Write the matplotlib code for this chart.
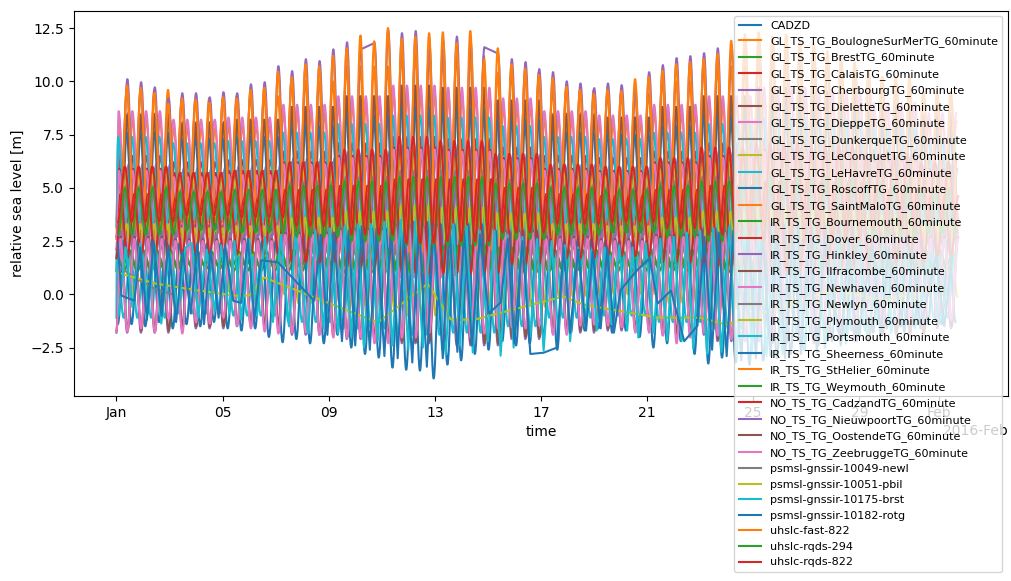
import numpy as np
import matplotlib
matplotlib.use("Agg")
import matplotlib.pyplot as plt
import matplotlib.dates as mdates
from matplotlib.path import Path
from matplotlib.patches import PathPatch
from matplotlib.lines import Line2D

START = np.datetime64("2016-01-01T00:00")
END_H = 762.0   # last hourly record, Feb 1 18:00
M2 = 12.42      # hours between two high waters

# tide gauges: hour of first high water, high and low water levels [m]
# 16 values = one reading per ~2 days, held for the tides of that window
cadzd_ph, cadzd_hw, cadzd_lw = 3.7, [4.7, 4.5, 4.5, 4.9, 5.1, 5.4, 5.4, 5.0, 4.7, 4.6, 4.9, 5.1, 5.3, 5.3, 4.9, 4.6], [1.7, 1.9, 1.9, 1.6, 1.3, 1.0, 1.0, 1.4, 1.7, 1.8, 1.6, 1.3, 1.1, 1.2, 1.5, 1.8]
boulogne_ph, boulogne_hw, boulogne_lw = 2.2, [8.2, 7.8, 7.9, 8.5, 8.9, 9.4, 9.3, 8.8, 8.2, 8.0, 8.5, 8.9, 9.3, 9.1, 8.6, 8.1], [3.1, 3.4, 3.3, 2.8, 2.3, 1.8, 1.9, 2.5, 3.1, 3.2, 2.8, 2.3, 1.9, 2.1, 2.6, 3.1]
brest_ph, brest_hw, brest_lw = 8.9, [5.9, 5.7, 5.8, 6.2, 6.5, 6.8, 6.8, 6.4, 5.9, 5.8, 6.2, 6.5, 6.7, 6.6, 6.3, 5.9], [2.5, 2.7, 2.6, 2.3, 1.9, 1.6, 1.7, 2.0, 2.5, 2.6, 2.3, 1.9, 1.7, 1.8, 2.2, 2.5]
calais_ph, calais_hw, calais_lw = 2.6, [6.5, 6.2, 6.3, 6.7, 7.1, 7.4, 7.3, 6.9, 6.5, 6.4, 6.7, 7.1, 7.3, 7.2, 6.8, 6.4], [2.7, 3.0, 2.9, 2.5, 2.2, 1.8, 1.9, 2.3, 2.7, 2.8, 2.5, 2.2, 1.9, 2.0, 2.4, 2.8]
cherbourg_ph, cherbourg_hw, cherbourg_lw = 11.2, [6.1, 5.9, 6.0, 6.4, 6.7, 7.0, 7.0, 6.6, 6.1, 6.0, 6.4, 6.7, 6.9, 6.8, 6.5, 6.1], [2.7, 2.9, 2.8, 2.5, 2.1, 1.8, 1.9, 2.2, 2.7, 2.8, 2.5, 2.1, 1.9, 2.0, 2.4, 2.7]
dielette_ph, dielette_hw, dielette_lw = 10.4, [8.5, 8.1, 8.2, 8.8, 9.3, 9.8, 9.7, 9.1, 8.5, 8.3, 8.8, 9.3, 9.7, 9.5, 9.0, 8.4], [3.1, 3.5, 3.4, 2.8, 2.3, 1.8, 1.9, 2.5, 3.1, 3.3, 2.8, 2.3, 1.9, 2.1, 2.6, 3.2]
dieppe_ph, dieppe_hw, dieppe_lw = 2.0, [8.6, 8.2, 8.3, 8.9, 9.3, 9.8, 9.7, 9.2, 8.6, 8.4, 8.9, 9.3, 9.7, 9.5, 9.0, 8.5], [3.5, 3.8, 3.7, 3.2, 2.7, 2.2, 2.3, 2.9, 3.5, 3.6, 3.2, 2.7, 2.3, 2.5, 3.0, 3.5]
dunkerque_ph, dunkerque_hw, dunkerque_lw = 3.0, [5.8, 5.6, 5.7, 6.0, 6.3, 6.6, 6.6, 6.2, 5.8, 5.7, 6.0, 6.3, 6.5, 6.4, 6.1, 5.8], [2.6, 2.8, 2.7, 2.4, 2.1, 1.8, 1.9, 2.2, 2.6, 2.7, 2.4, 2.1, 1.9, 2.0, 2.3, 2.6]
conquet_ph, conquet_hw, conquet_lw = 8.9, [5.7, 5.5, 5.5, 5.9, 6.2, 6.5, 6.5, 6.1, 5.7, 5.6, 5.9, 6.2, 6.4, 6.3, 6.0, 5.6], [2.3, 2.5, 2.5, 2.1, 1.8, 1.5, 1.6, 1.9, 2.3, 2.4, 2.1, 1.8, 1.6, 1.7, 2.0, 2.4]
lehavre_ph, lehavre_hw, lehavre_lw = 1.5, [7.4, 7.1, 7.2, 7.6, 8.0, 8.4, 8.3, 7.9, 7.4, 7.3, 7.6, 8.0, 8.3, 8.2, 7.8, 7.3], [3.2, 3.5, 3.4, 3.0, 2.6, 2.2, 2.3, 2.7, 3.2, 3.4, 3.0, 2.6, 2.3, 2.4, 2.9, 3.3]
roscoff_ph, roscoff_hw, roscoff_lw = 9.1, [7.6, 7.3, 7.4, 7.9, 8.4, 8.8, 8.7, 8.2, 7.6, 7.5, 7.9, 8.4, 8.7, 8.6, 8.0, 7.5], [2.8, 3.1, 3.0, 2.5, 2.1, 1.6, 1.7, 2.2, 2.8, 2.9, 2.5, 2.1, 1.7, 1.9, 2.4, 2.9]
stmalo_ph, stmalo_hw, stmalo_lw = 9.4, [9.6, 9.2, 9.3, 10.0, 10.7, 11.3, 11.2, 10.4, 9.6, 9.4, 10.0, 10.7, 11.1, 10.9, 10.2, 9.5], [2.9, 3.4, 3.2, 2.5, 1.9, 1.3, 1.4, 2.1, 2.9, 3.1, 2.5, 1.9, 1.4, 1.6, 2.3, 3.0]
bournemouth_ph, bournemouth_hw, bournemouth_lw = 0.5, [1.9, 1.8, 1.9, 2.0, 2.0, 2.1, 2.1, 2.0, 1.9, 1.9, 2.0, 2.0, 2.1, 2.1, 2.0, 1.9], [1.1, 1.2, 1.1, 1.1, 1.0, 0.9, 0.9, 1.0, 1.1, 1.1, 1.1, 1.0, 0.9, 0.9, 1.0, 1.1]
dover_ph, dover_hw, dover_lw = 2.5, [5.9, 5.7, 5.8, 6.2, 6.5, 6.9, 6.8, 6.4, 5.9, 5.8, 6.2, 6.5, 6.8, 6.7, 6.3, 5.9], [2.1, 2.3, 2.2, 1.8, 1.5, 1.1, 1.2, 1.6, 2.1, 2.2, 1.8, 1.5, 1.2, 1.3, 1.7, 2.1]
ilfracombe_ph, ilfracombe_hw, ilfracombe_lw = 9.4, [8.4, 8.0, 8.2, 8.8, 9.3, 9.8, 9.7, 9.1, 8.4, 8.3, 8.8, 9.3, 9.7, 9.5, 8.9, 8.3], [2.8, 3.2, 3.0, 2.5, 1.9, 1.4, 1.5, 2.1, 2.8, 3.0, 2.5, 1.9, 1.5, 1.7, 2.3, 2.9]
newhaven_ph, newhaven_hw, newhaven_lw = 2.3, [5.8, 5.5, 5.6, 6.1, 6.4, 6.8, 6.7, 6.3, 5.8, 5.7, 6.1, 6.4, 6.7, 6.6, 6.2, 5.8], [1.8, 2.1, 2.0, 1.6, 1.2, 0.8, 0.9, 1.3, 1.8, 1.9, 1.6, 1.2, 0.9, 1.0, 1.4, 1.9]
newlyn_ph, newlyn_hw, newlyn_lw = 8.7, [5.1, 4.9, 4.9, 5.3, 5.5, 5.8, 5.8, 5.4, 5.1, 5.0, 5.3, 5.5, 5.7, 5.6, 5.3, 5.0], [2.1, 2.3, 2.3, 1.9, 1.7, 1.4, 1.4, 1.8, 2.1, 2.2, 1.9, 1.7, 1.5, 1.6, 1.9, 2.2]
plymouth_ph, plymouth_hw, plymouth_lw = 9.2, [3.3, 3.1, 3.2, 3.6, 3.9, 4.2, 4.1, 3.8, 3.3, 3.2, 3.6, 3.9, 4.1, 4.0, 3.7, 3.3], [-0.1, 0.1, 0.0, -0.4, -0.7, -1.0, -0.9, -0.6, -0.1, 0.0, -0.4, -0.7, -0.9, -0.8, -0.5, -0.1]
portsmouth_ph, portsmouth_hw, portsmouth_lw = 0.3, [2.0, 1.7, 1.8, 2.1, 2.4, 2.7, 2.6, 2.3, 2.0, 1.9, 2.1, 2.4, 2.6, 2.5, 2.2, 1.9], [-1.1, -0.9, -1.0, -1.3, -1.6, -1.9, -1.8, -1.5, -1.1, -1.0, -1.3, -1.6, -1.8, -1.7, -1.4, -1.1]
weymouth_ph, weymouth_hw, weymouth_lw = 11.5, [2.1, 2.0, 2.0, 2.1, 2.2, 2.3, 2.3, 2.2, 2.1, 2.0, 2.1, 2.2, 2.3, 2.3, 2.2, 2.1], [1.2, 1.3, 1.3, 1.2, 1.1, 1.0, 1.0, 1.1, 1.2, 1.3, 1.2, 1.1, 1.0, 1.0, 1.1, 1.2]
cadzand_ph, cadzand_hw, cadzand_lw = 3.7, [4.7, 4.5, 4.5, 4.9, 5.1, 5.4, 5.4, 5.0, 4.7, 4.6, 4.9, 5.1, 5.3, 5.2, 4.9, 4.6], [1.7, 1.9, 1.9, 1.5, 1.3, 1.0, 1.0, 1.4, 1.7, 1.8, 1.5, 1.3, 1.1, 1.2, 1.5, 1.8]
nieuwpoort_ph, nieuwpoort_hw, nieuwpoort_lw = 3.5, [2.9, 2.8, 2.8, 3.1, 3.3, 3.5, 3.4, 3.2, 2.9, 2.8, 3.0, 3.2, 3.4, 3.3, 3.1, 2.9], [-1.8, -1.6, -1.5, -1.9, -2.1, -2.3, -2.4, -2.1, -1.8, -1.7, -1.9, -2.2, -2.3, -2.2, -1.9, -1.6]
oostende_ph, oostende_hw, oostende_lw = 3.9, [2.7, 2.6, 2.6, 2.9, 3.1, 3.3, 3.2, 3.0, 2.7, 2.6, 2.8, 3.0, 3.2, 3.1, 2.9, 2.7], [-1.7, -1.5, -1.4, -1.8, -2.0, -2.2, -2.3, -2.0, -1.7, -1.6, -1.8, -2.1, -2.2, -2.1, -1.8, -1.5]
rqds294_ph, rqds294_hw, rqds294_lw = 7.8, [5.0, 4.8, 4.9, 5.1, 5.3, 5.5, 5.5, 5.2, 5.0, 4.9, 5.1, 5.3, 5.5, 5.4, 5.2, 4.9], [2.8, 3.0, 2.9, 2.7, 2.5, 2.3, 2.3, 2.6, 2.8, 2.9, 2.7, 2.5, 2.4, 2.4, 2.6, 2.9]
uh822_ph, uh822_hw, uh822_lw = 7.6, [6.0, 5.7, 5.8, 6.2, 6.8, 7.4, 7.2, 6.6, 6.1, 6.0, 6.4, 6.9, 7.1, 7.0, 6.6, 6.2], [3.4, 3.7, 3.6, 3.2, 2.8, 2.4, 2.5, 2.9, 3.3, 3.4, 3.1, 2.8, 2.5, 2.6, 3.0, 3.4]

# envelope stations: one value per tide
hinkley_ph = 9.9
hinkley_hw = [10.1, 9.96, 9.72, 9.2, 9.44, 9.44, 9.25, 9.49, 9.44, 9.86,
              9.96, 10.71, 10.48, 11.04, 10.95, 11.5, 11.83, 11.5, 11.8, 12.4,
              12.26, 12.36, 11.7, 11.9, 12.1, 11.85, 11.6, 11.3, 11.04, 10.9,
              10.57, 10.43, 10.0, 9.9, 9.68, 9.9, 9.82, 9.6, 10.43, 10.76,
              11.09, 11.18, 11.32, 11.55, 11.7, 12.0, 12.1, 11.9, 12.0, 11.7,
              11.6, 11.2, 10.9, 10.6, 10.3, 10.0, 9.7, 9.5, 9.3, 9.2, 9.1]
hinkley_lw = [3.4, 3.7, 3.6, 3.2, 2.8, 2.4, 2.5, 3.0, 3.5, 3.6, 3.2, 2.8, 2.5, 2.6, 3.0, 3.5]
hinkley_gaps = [17, 26]   # tides with no low water recorded

sthelier_ph = 9.6
sthelier_hw = [9.8, 9.7, 9.45, 8.95, 9.2, 9.15, 9.0, 9.25, 9.2, 9.6,
               9.7, 10.45, 10.2, 10.8, 10.7, 11.2, 11.55, 12.15, 11.88, 12.5,
               12.0, 12.1, 12.26, 12.3, 11.8, 12.36, 11.0, 11.55, 10.8, 10.6,
               10.3, 10.15, 9.75, 9.6, 9.4, 9.6, 9.55, 10.1, 10.2, 10.5,
               10.8, 10.9, 11.05, 11.3, 11.9, 12.2, 12.3, 12.1, 12.2, 11.9,
               11.8, 11.4, 11.1, 10.8, 10.5, 10.2, 9.9, 9.7, 9.5, 9.4, 9.3]
sthelier_lw = [3.0, 3.3, 3.2, 2.8, 2.4, 2.0, 2.1, 2.6, 3.1, 3.2, 2.8, 2.4, 2.1, 2.2, 2.6, 3.1]

sheerness_ph = 7.5
sheerness_hw = [2.6, 2.4, 2.5, 2.8, 3.1, 3.4, 3.3, 3.0, 2.6, 2.5, 2.8, 3.1, 3.3, 3.2, 2.9, 2.6]
sheerness_lw = [-1.4, -1.5, -1.3, -1.6, -1.4, -1.5, -1.3, -1.6,
                -1.7, -1.6, -2.0, -2.25, -2.1, -2.3,
                -2.3, -1.9, -2.5, -2.8, -2.97, -3.44, -3.54, -3.58, -3.95, -3.3, -3.1,
                -2.8, -2.6, -2.2, -2.4, -2.3, -2.0, -2.6, -1.8, -1.7, -1.6, -1.8, -1.7, -2.0,
                -2.5, -2.3, -2.2, -2.8, -3.25, -2.97,
                -3.2, -3.3, -3.1, -3.0, -2.8, -2.6, -2.4, -2.2, -2.0, -1.9, -1.8, -1.6,
                -1.5, -1.5, -1.4, -1.4, -1.3]

zeebrugge_ph = 3.7
zeebrugge_hw = [2.6, 2.5, 2.5, 2.8, 3.0, 3.2, 3.1, 2.9, 2.6, 2.5, 2.7, 2.9, 3.1, 3.0, 2.8, 2.6]
zeebrugge_lw = [-1.75, -1.6, -1.8, -1.14, -1.84, -1.32, -1.37, -1.09, -1.47, -1.6,
                -1.75, -1.84, -1.8, -1.8, -1.89, -2.03, -2.03, -2.03, -2.3, -2.3,
                -2.03, -2.03, -1.8, -2.17, -2.08, -2.03, -1.84, -1.6, -1.55, -1.6,
                -1.47, -1.9, -1.9, -1.47, -1.42, -1.47, -1.55, -1.8, -1.8, -1.94,
                -2.3, -2.03, -1.8, -1.94, -2.1, -2.2, -2.1, -2.0, -2.0, -1.9,
                -1.8, -1.7, -1.6, -1.6, -1.5, -1.4, -1.4, -1.3, -1.3, -1.2, -1.2, -1.2]

# GNSS reflectometry records: irregular samples (day since Jan 1, level)
newl_day = [0.19, 0.8, 1.43, 2.1]
newl_lev = [1.21, 0.7, 0.27, 0.0]
pbil_day = [0.1, 1.5, 3.0, 4.44, 5.0, 5.57, 9.85, 11.73, 12.6, 13.46,
            16.85, 17.6, 20.38, 22.0, 23.0, 25.0, 27.0, 29.0, 31.0]
pbil_lev = [1.0, 0.5, 0.2, -0.06, -0.06, 0.79, -1.32, 0.5, -1.18, -1.2,
            -0.1, -0.48, -1.09, -1.1, -1.42, -0.6, 0.2, -0.3, 0.4]
brst_day = [0.08, 0.35, 0.6, 0.9, 1.2, 1.45, 1.69, 2.0, 2.3, 2.6, 2.85, 3.08, 3.4, 3.7,
            3.95, 4.25, 4.45, 4.7, 5.0, 5.3, 5.6, 5.9, 6.2, 6.5, 6.75, 7.22, 7.5, 7.8,
            8.05, 8.35, 8.6, 8.85, 9.1, 9.33, 9.6, 9.85, 10.1, 10.4, 10.7, 11.0, 11.25,
            11.55, 11.85, 12.41, 12.7, 12.95, 13.2, 13.43, 13.7, 14.0, 14.25, 14.48,
            14.75, 14.97, 15.3, 15.6, 15.85, 16.1, 16.4, 16.65, 16.9, 17.1, 17.4, 17.65,
            17.9, 18.1, 18.4, 18.65, 18.95, 19.25, 19.45, 19.67, 19.95, 20.25, 20.5,
            20.76, 21.0, 21.3, 21.5, 21.74, 22.0, 22.26, 22.5, 22.8, 23.1, 23.35, 23.65,
            23.95, 24.2, 24.5, 24.8, 25.1, 25.6, 25.9, 26.4, 26.7, 27.2, 27.5, 28.0,
            28.3, 28.9, 29.2, 29.8, 30.1, 30.7, 31.0, 31.6]
brst_lev = [-1.0, 2.2, -0.6, 2.4, -0.9, 2.3, -1.37, 2.0, -0.8, 2.2, 2.4, -1.1, 2.1, -0.8,
            2.3, -0.9, 2.5, -1.2, 2.6, -1.0, 2.7, -1.3, 2.8, -1.5, 2.9, -1.84, 3.0, -1.6,
            3.1, -1.84, 3.2, -2.0, 3.3, -2.5, 3.3, -2.17, 3.4, -2.4, 3.5, -2.6, 3.4,
            -2.5, 3.5, -2.83, 3.3, -2.4, 3.2, -2.73, 3.0, -2.2, 3.0, -2.88,
            2.8, -2.5, 2.7, -2.0, 2.6, -2.64, 2.5, -1.8, 2.3, -2.2, 2.2, -1.5,
            2.1, -1.7, 2.2, -1.4, 2.3, -1.7, 2.2, -2.03, 2.4, -1.8, 2.6,
            -2.17, 2.7, -2.2, 2.9, -2.55, 3.0, -2.8, 3.1, -2.7, 3.2, -2.9, 3.2,
            -2.8, 3.3, -2.9, 3.2, -2.8, 3.1, -2.6, 3.0, -2.5, 2.8, -2.3, 2.6,
            -2.0, 2.4, -1.8, 2.2, -1.6, 2.0, -1.4, 1.9]
rotg_day = [0.05, 0.19, 0.68, 0.9, 1.15, 1.4, 1.7, 1.95, 2.25, 2.5, 2.8, 3.05, 3.3, 3.55,
            3.85, 4.1, 4.4, 4.7, 4.95, 5.2, 5.45, 6.09, 7.45, 7.7, 7.95, 8.2, 8.5, 8.75,
            9.0, 9.25, 9.55, 9.8, 10.1, 10.35, 10.6, 10.85, 11.15, 11.4, 11.7, 11.95,
            12.3, 12.55, 12.85, 13.1, 13.4, 13.7, 14.03, 14.48, 14.75, 15.0, 15.3, 15.6,
            16.1, 16.6, 16.85, 17.1, 17.4, 17.7, 17.95, 18.25, 18.5, 18.75, 19.0, 19.6,
            20.1, 20.4, 20.9, 21.4, 21.9, 22.15, 22.45, 22.7, 23.0, 23.25, 23.55, 23.8,
            24.1, 24.35, 24.65, 24.9, 25.2, 25.5, 25.8, 26.1, 26.4, 26.7, 27.3, 27.6,
            27.9, 28.5, 28.8, 29.1, 29.7, 30.0, 30.3, 30.9, 31.2, 31.5]
rotg_lev = [2.4, -0.06, -0.3, 2.2, -1.2, 2.5, -1.0, 2.3, -1.3, 2.0, -0.9, 2.4, -1.4, 2.1,
            -1.1, 2.3, -0.3, -0.4, 2.6, -1.2, 1.6, 1.5, -0.3, 2.8, -1.9, 2.9, -2.2, 3.0,
            -2.4, 3.2, -2.6, 3.1, -2.9, 3.4, -3.0, 3.3, -3.2, 3.5, -3.4, 3.3,
            -3.0, 3.2, -2.7, 3.0, -2.4, 2.8, -0.9, -0.38, 2.6, -2.3, 2.5, -2.8,
            -2.74, -2.5, 2.2, -1.8, 2.1, -1.7, 2.0, -1.6, 2.2, -1.8, 0.2, 1.1,
            1.7, -0.43, 0.18, -2.2, -1.47, 2.7, -2.6, 2.9, -2.9, 3.0, -3.1, 3.1,
            -3.0, 3.0, -2.9, 3.1, -3.0, 2.9, -2.8, 2.8, -2.7, 2.6, -2.4, 2.5,
            -2.2, 2.3, -2.0, 2.2, -1.8, 2.0, -1.6, 1.9, -1.5, 1.8]

T0 = mdates.date2num(START)


def tide(first_high, hw, lw, gaps=()):
    # high / low waters in turn, one tide every M2 hours
    n = int((END_H - first_high) // M2) + 1
    hours = [max(first_high - M2 / 2, 0.0)]
    level = [lw[0]]
    kind = ["L"]
    for k in range(n):
        th = first_high + k * M2
        hours.append(th)
        level.append(hw[k * len(hw) // n])
        kind.append("H")
        if th + M2 / 2 <= END_H and k not in gaps:
            hours.append(th + M2 / 2)
            level.append(lw[k * len(lw) // n])
            kind.append("L")
    return T0 + np.array(hours) / 24.0, np.array(level), kind


def tide_path(x, z, kind):
    # smooth line through the turning points (flat at each high / low water)
    verts = [(x[0], z[0])]
    codes = [Path.MOVETO]
    for i in range(1, len(x)):
        if kind[i] == kind[i - 1]:
            verts.append((x[i], z[i]))
            codes.append(Path.LINETO)
        else:
            dx = (x[i] - x[i - 1]) / 3
            verts += [(x[i - 1] + dx, z[i - 1]), (x[i] - dx, z[i]), (x[i], z[i])]
            codes += [Path.CURVE4] * 3
    return Path(verts, codes)


def samples(days, lev):
    return T0 + np.array(days), np.array(lev)


series = [
    ("CADZD", tide(cadzd_ph, cadzd_hw, cadzd_lw)),
    ("GL_TS_TG_BoulogneSurMerTG_60minute", tide(boulogne_ph, boulogne_hw, boulogne_lw)),
    ("GL_TS_TG_BrestTG_60minute", tide(brest_ph, brest_hw, brest_lw)),
    ("GL_TS_TG_CalaisTG_60minute", tide(calais_ph, calais_hw, calais_lw)),
    ("GL_TS_TG_CherbourgTG_60minute", tide(cherbourg_ph, cherbourg_hw, cherbourg_lw)),
    ("GL_TS_TG_DieletteTG_60minute", tide(dielette_ph, dielette_hw, dielette_lw)),
    ("GL_TS_TG_DieppeTG_60minute", tide(dieppe_ph, dieppe_hw, dieppe_lw)),
    ("GL_TS_TG_DunkerqueTG_60minute", tide(dunkerque_ph, dunkerque_hw, dunkerque_lw)),
    ("GL_TS_TG_LeConquetTG_60minute", tide(conquet_ph, conquet_hw, conquet_lw)),
    ("GL_TS_TG_LeHavreTG_60minute", tide(lehavre_ph, lehavre_hw, lehavre_lw)),
    ("GL_TS_TG_RoscoffTG_60minute", tide(roscoff_ph, roscoff_hw, roscoff_lw)),
    ("GL_TS_TG_SaintMaloTG_60minute", tide(stmalo_ph, stmalo_hw, stmalo_lw)),
    ("IR_TS_TG_Bournemouth_60minute", tide(bournemouth_ph, bournemouth_hw, bournemouth_lw)),
    ("IR_TS_TG_Dover_60minute", tide(dover_ph, dover_hw, dover_lw)),
    ("IR_TS_TG_Hinkley_60minute", tide(hinkley_ph, hinkley_hw, hinkley_lw, hinkley_gaps)),
    ("IR_TS_TG_Ilfracombe_60minute", tide(ilfracombe_ph, ilfracombe_hw, ilfracombe_lw)),
    ("IR_TS_TG_Newhaven_60minute", tide(newhaven_ph, newhaven_hw, newhaven_lw)),
    ("IR_TS_TG_Newlyn_60minute", tide(newlyn_ph, newlyn_hw, newlyn_lw)),
    ("IR_TS_TG_Plymouth_60minute", tide(plymouth_ph, plymouth_hw, plymouth_lw)),
    ("IR_TS_TG_Portsmouth_60minute", tide(portsmouth_ph, portsmouth_hw, portsmouth_lw)),
    ("IR_TS_TG_Sheerness_60minute", tide(sheerness_ph, sheerness_hw, sheerness_lw)),
    ("IR_TS_TG_StHelier_60minute", tide(sthelier_ph, sthelier_hw, sthelier_lw)),
    ("IR_TS_TG_Weymouth_60minute", tide(weymouth_ph, weymouth_hw, weymouth_lw)),
    ("NO_TS_TG_CadzandTG_60minute", tide(cadzand_ph, cadzand_hw, cadzand_lw)),
    ("NO_TS_TG_NieuwpoortTG_60minute", tide(nieuwpoort_ph, nieuwpoort_hw, nieuwpoort_lw)),
    ("NO_TS_TG_OostendeTG_60minute", tide(oostende_ph, oostende_hw, oostende_lw)),
    ("NO_TS_TG_ZeebruggeTG_60minute", tide(zeebrugge_ph, zeebrugge_hw, zeebrugge_lw)),
    ("psmsl-gnssir-10049-newl", samples(newl_day, newl_lev)),
    ("psmsl-gnssir-10051-pbil", samples(pbil_day, pbil_lev)),
    ("psmsl-gnssir-10175-brst", samples(brst_day, brst_lev)),
    ("psmsl-gnssir-10182-rotg", samples(rotg_day, rotg_lev)),
    ("uhslc-fast-822", tide(uh822_ph, uh822_hw, uh822_lw)),
    ("uhslc-rqds-294", tide(rqds294_ph, rqds294_hw, rqds294_lw)),
    ("uhslc-rqds-822", tide(uh822_ph, uh822_hw, uh822_lw)),
]

fig = plt.figure(figsize=(10.12, 5.81), dpi=100)
ax = fig.add_axes([0.0731, 0.3184, 0.9229, 0.6635])
ax.xaxis_date()

handles = []
for i, (name, data) in enumerate(series):
    color = f"C{i % 10}"
    if len(data) == 3:
        ax.add_patch(PathPatch(tide_path(*data), fill=False, edgecolor=color,
                               lw=1.5, joinstyle="round", capstyle="projecting", zorder=2))
    else:
        ax.plot(data[0], data[1], color=color, lw=1.5)
    handles.append(Line2D([], [], color=color, lw=1.5, label=name))

ax.autoscale_view()
ax.set_xlim(T0 - 1.6, T0 + 32 + 1.6)

loc = mdates.AutoDateLocator()
ax.xaxis.set_major_locator(loc)
ax.xaxis.set_major_formatter(mdates.ConciseDateFormatter(loc))
ax.set_xlabel("time")
ax.set_ylabel("relative sea level [m]")
ax.legend(handles=handles, loc="upper right", fontsize=8)

fig.savefig("out.png", dpi=100)
